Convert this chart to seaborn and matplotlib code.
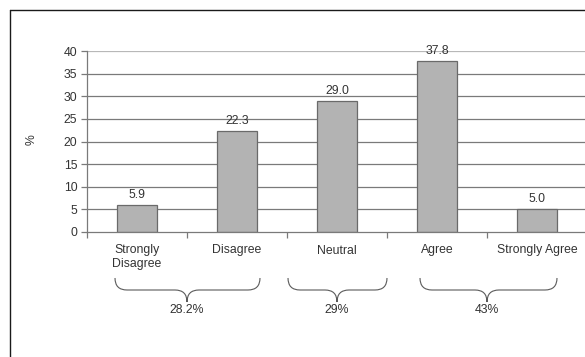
import numpy as np
import pandas as pd
import matplotlib
matplotlib.use('Agg')
import matplotlib.pyplot as plt
import seaborn as sns
from matplotlib.path import Path
from matplotlib.patches import PathPatch
from matplotlib.lines import Line2D
import matplotlib.transforms as mtransforms

# data
categories = ['Strongly\nDisagree', 'Disagree', 'Neutral', 'Agree', 'Strongly Agree']
percent = [5.9, 22.3, 29.0, 37.8, 5.0]
y_ticks = [0, 5, 10, 15, 20, 25, 30, 35, 40]

# grouped totals shown under the braces (start, end in category units)
group_labels = ['28.2%', '29%', '43%']
group_spans = [(-0.22, 1.23), (1.51, 2.50), (2.83, 4.20)]
group_centers = [0.5, 2.0, 3.5]

sns.set_style('white')
plt.rcParams['font.family'] = ['Liberation Sans', 'DejaVu Sans']

df = pd.DataFrame({'category': categories, 'percent': percent})

W, H = 585, 357
fig = plt.figure(figsize=(W / 100, H / 100), dpi=100)
ax = fig.add_axes([87 / W, (H - 232) / H, 500 / W, 181 / H])

grey_txt = '#333333'
fs = 8.8
ax.set_axisbelow(True)
for t in y_ticks[1:]:
    ax.axhline(t, color='#7a7a7a' if t < 40 else '#b8b8b8', lw=0.9, zorder=0)

sns.barplot(data=df, x='category', y='percent', width=0.4, color='#b3b3b3',
            edgecolor='#6a6a6a', linewidth=0.9, saturation=1, ax=ax, zorder=2)

for cont in ax.containers:
    ax.bar_label(cont, fmt='%.1f', padding=3, fontsize=fs, color=grey_txt)

ax.set_xlim(-0.5, 4.5)
ax.set_ylim(0, 40)
ax.set_yticks(y_ticks)
ax.set_xlabel('')
ax.set_ylabel('')

for s in ['top', 'right']:
    ax.spines[s].set_visible(False)
for s in ['left', 'bottom']:
    ax.spines[s].set_color('#7a7a7a')
    ax.spines[s].set_linewidth(0.9)

ax.tick_params(axis='y', length=4, width=0.9, color='#7a7a7a', pad=3,
               labelsize=fs, labelcolor=grey_txt, left=True)
ax.tick_params(axis='x', which='major', length=0, pad=9,
               labelsize=fs, labelcolor=grey_txt)
ax.set_xticks(np.arange(-0.5, 5.0, 1.0), minor=True)
ax.tick_params(axis='x', which='minor', length=4, width=0.9, color='#7a7a7a',
               bottom=True)
for lab in ax.get_xticklabels():
    lab.set_verticalalignment('top')
    lab.set_horizontalalignment('center')
    lab.set_multialignment('center')

# braces below the category labels
trans = mtransforms.blended_transform_factory(ax.transData, ax.transAxes)
y_top = -(278 - 232) / 181
y_mid = -(290 - 232) / 181
y_tip = -(302 - 232) / 181
r = 0.12
for (x0, x1), xc, lab in zip(group_spans, group_centers, group_labels):
    verts = [(x0, y_top), (x0, y_mid), (x0 + r, y_mid),
             (xc - r, y_mid),
             (xc, y_mid), (xc, y_tip),
             (xc, y_mid), (xc + r, y_mid),
             (x1 - r, y_mid),
             (x1, y_mid), (x1, y_top)]
    codes = [Path.MOVETO, Path.CURVE3, Path.CURVE3,
             Path.LINETO,
             Path.CURVE3, Path.CURVE3,
             Path.CURVE3, Path.CURVE3,
             Path.LINETO,
             Path.CURVE3, Path.CURVE3]
    patch = PathPatch(Path(verts, codes), transform=trans, fill=False,
                      edgecolor='#5a5a5a', lw=0.8, clip_on=False)
    ax.add_patch(patch)
    ax.text(xc, -(304 - 232) / 181, lab, transform=trans, ha='center', va='top',
            fontsize=fs, color=grey_txt, clip_on=False)

fig.text(32 / W, 1 - 140 / H, '%', rotation=90, ha='center', va='center',
         fontsize=fs, color=grey_txt)

# outer frame (left and top edges visible in the reference)
fig.add_artist(Line2D([9.5 / W, 1.0], [1 - 9.5 / H] * 2, transform=fig.transFigure,
                      color='#1a1a1a', lw=1.0))
fig.add_artist(Line2D([9.5 / W] * 2, [0, 1 - 9.5 / H], transform=fig.transFigure,
                      color='#1a1a1a', lw=1.0))

fig.savefig('out.png', dpi=100)
